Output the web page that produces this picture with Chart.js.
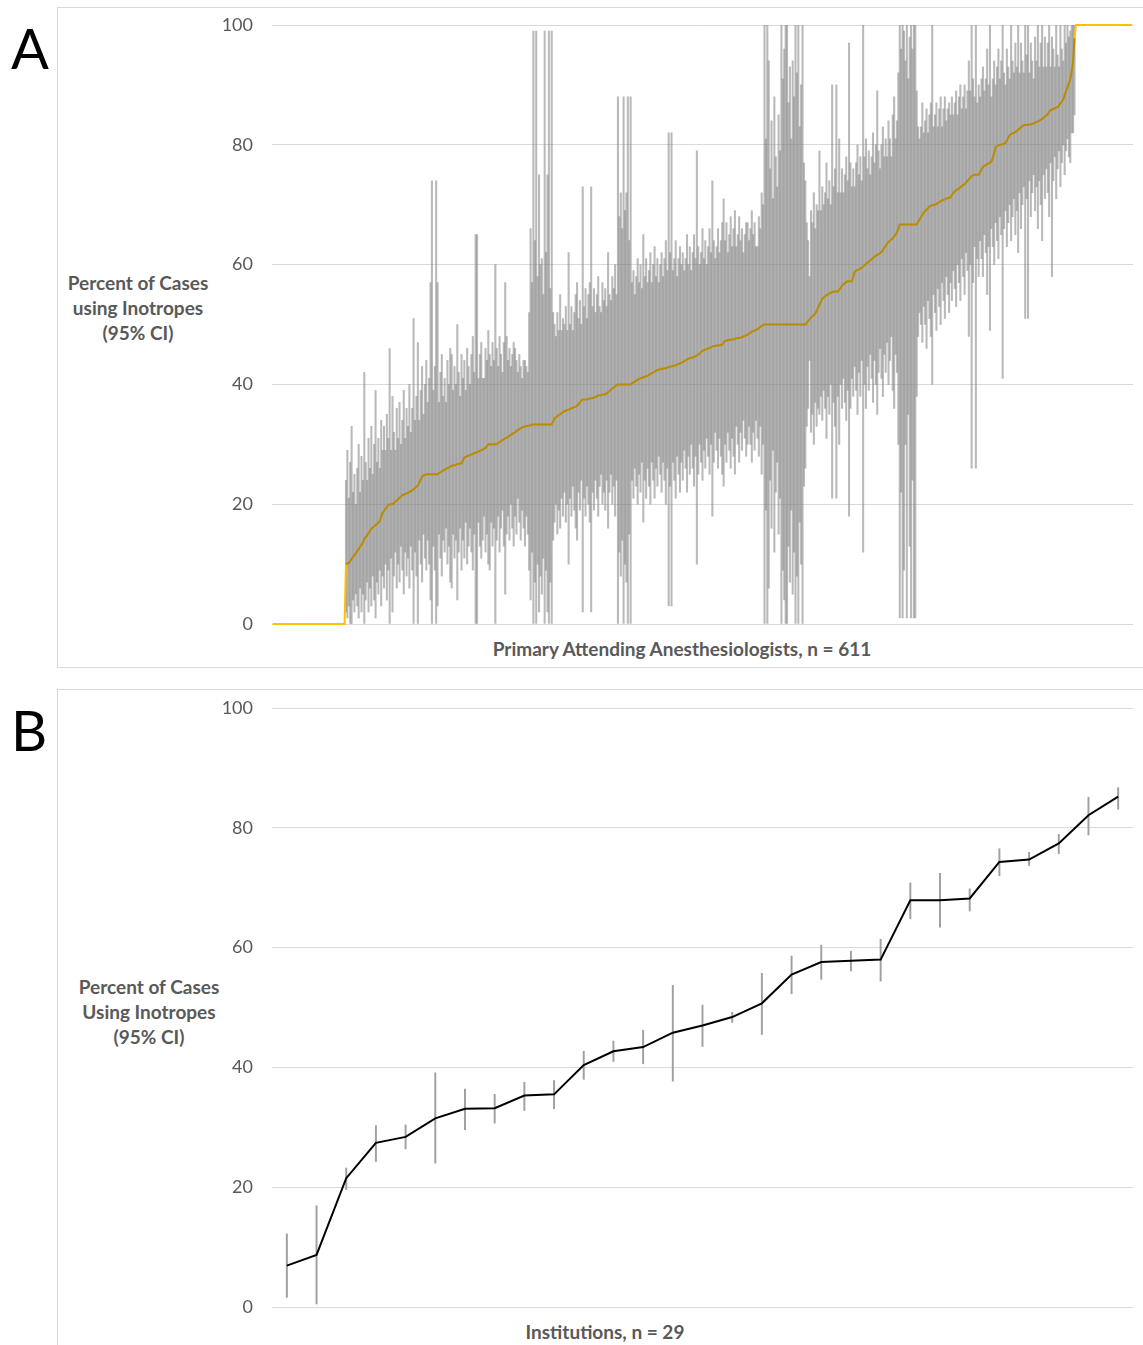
<!DOCTYPE html>
<html lang="en">
<head>
    <meta charset="UTF-8">
    <meta name="viewport" content="width=device-width, initial-scale=1.0">
    <script src="https://cdn.jsdelivr.net/npm/chart.js"></script>
    <title>Inotropes</title>
    <style>
        body { margin: 0; width: 1143px; height: 1345px; overflow: hidden; background: #fff; font-family: Lato, sans-serif; }
        .box { position: absolute; border: 1px solid #D9D9D9; }
        .cv { position: absolute; }
        .lbl { position: absolute; font-size: 56px; color: #000; line-height: 60px; }
        .ttl { position: absolute; text-align: center; font-weight: bold; font-size: 19px; color: #595959; line-height: 25px; }
    </style>
</head>
<body>
    <div class="box" style="left:57px; top:7px; width:1100px; height:659px;"></div>
    <div class="box" style="left:57px; top:689px; width:1100px; height:700px;"></div>

    <div class="lbl" style="left:11px; top:18px;">A</div>
    <div class="lbl" style="left:11px; top:700px;">B</div>

    <div class="ttl" style="left:38px; top:270px; width:200px;">Percent of Cases<br>using Inotropes<br>(95% CI)</div>
    <div class="ttl" style="left:49px; top:974px; width:200px;">Percent of Cases<br>Using Inotropes<br>(95% CI)</div>
    <div class="ttl" style="left:432px; top:636px; width:500px;">Primary Attending Anesthesiologists, n = 611</div>
    <div class="ttl" style="left:405px; top:1319px; width:400px;">Institutions, n = 29</div>

    <canvas id="chartA" class="cv" width="1086" height="660" style="left:57px; top:7px;"></canvas>
    <canvas id="chartB" class="cv" width="1086" height="656" style="left:57px; top:689px;"></canvas>

<script>
    // A : anesthesiologists, sorted by rate (611)
    let medianA = [
        0,0,0,0,0,0,0,0,0,0,
        0,0,0,0,0,0,0,0,0,0,
        0,0,0,0,0,0,0,0,0,0,
        0,0,0,0,0,0,0,0,0,0,
        0,0,0,0,0,0,0,0,0,0,
        0,0,10.0,10.1,10.2,10.5,10.9,11.2,11.5,11.8,
        12.2,12.5,12.9,13.2,13.6,14.2,14.5,14.8,15.2,15.5,
        15.9,16.1,16.3,16.5,16.7,16.9,17.2,17.9,18.6,18.9,
        19.2,19.5,19.8,20.0,20.0,20.0,20.2,20.4,20.6,20.8,
        21.1,21.3,21.5,21.6,21.7,21.8,21.9,22.0,22.2,22.3,
        22.5,22.7,22.9,23.1,23.6,24.1,24.6,24.8,24.9,25.0,
        25,25,25,25,25,25,25,25,25.2,25.3,
        25.5,25.6,25.8,25.9,26.0,26.1,26.3,26.4,26.5,26.5,
        26.6,26.7,26.7,26.8,26.8,27.3,27.8,27.9,28.0,28.1,
        28.2,28.3,28.4,28.5,28.6,28.7,28.8,28.9,29.0,29.1,
        29.3,29.4,29.7,30,30,30,30,30,30,30,
        30.2,30.4,30.5,30.7,30.8,31.0,31.1,31.3,31.4,31.6,
        31.7,31.9,32.0,32.2,32.4,32.5,32.7,32.8,32.9,33.0,
        33.0,33.1,33.1,33.2,33.3,33.3,33.3,33.3,33.3,33.3,
        33.3,33.3,33.3,33.3,33.3,33.3,33.3,33.3,33.3,33.8,
        34.4,34.5,34.7,34.9,35.0,35.2,35.4,35.5,35.6,35.7,
        35.8,35.9,36.0,36.1,36.2,36.3,36.4,36.7,37.0,37.3,
        37.5,37.5,37.5,37.5,37.6,37.6,37.7,37.7,37.8,37.9,
        38.0,38.2,38.2,38.2,38.3,38.3,38.3,38.5,38.7,38.9,
        39.1,39.3,39.5,39.7,39.9,40,40,40,40,40,
        40,40,40,40,40,40.2,40.3,40.5,40.6,40.8,
        40.9,41.0,41.1,41.2,41.3,41.3,41.4,41.6,41.7,41.9,
        42.0,42.1,42.3,42.4,42.5,42.5,42.6,42.6,42.7,42.7,
        42.8,42.9,42.9,43.0,43.1,43.1,43.2,43.3,43.4,43.5,
        43.6,43.7,43.9,44.0,44.2,44.3,44.4,44.4,44.5,44.6,
        44.7,44.8,45.0,45.2,45.4,45.6,45.7,45.8,45.9,46.0,
        46.1,46.2,46.3,46.4,46.4,46.5,46.5,46.5,46.6,46.6,
        47.0,47.3,47.3,47.4,47.4,47.5,47.5,47.5,47.6,47.7,
        47.7,47.8,47.8,47.9,48.0,48.1,48.2,48.3,48.5,48.6,
        48.8,48.9,49.0,49.1,49.2,49.4,49.6,49.8,49.9,50,
        50,50,50,50,50,50,50,50,50,50,
        50,50,50,50,50,50,50,50,50,50,
        50,50,50,50,50,50,50,50,50,50.3,
        50.6,50.9,51.1,51.4,51.6,51.8,52.3,52.8,53.3,53.8,
        54.3,54.5,54.7,54.9,55.0,55.2,55.3,55.4,55.5,55.5,
        55.5,55.5,55.8,56.1,56.5,56.7,56.9,57.1,57.2,57.2,
        57.2,57.2,58.0,58.8,59.0,59.1,59.2,59.3,59.5,59.7,
        59.9,60.1,60.3,60.5,60.7,60.9,61.1,61.3,61.5,61.6,
        61.8,61.9,62.1,62.4,62.8,63.1,63.5,63.8,64.0,64.2,
        64.4,64.7,65.0,65.4,66.0,66.7,66.7,66.7,66.7,66.7,
        66.7,66.7,66.7,66.7,66.7,66.7,66.7,66.7,67.1,67.5,
        67.9,68.3,68.7,68.9,69.2,69.4,69.7,69.8,69.9,70.0,
        70.0,70.1,70.3,70.4,70.6,70.7,70.8,70.9,71.0,71.1,
        71.1,71.2,71.6,72.0,72.2,72.4,72.6,72.7,72.9,73.1,
        73.3,73.4,73.7,74.0,74.2,74.5,74.8,74.9,75.0,75.0,
        75.0,75.0,75.4,75.9,76.3,76.5,76.6,76.8,76.9,77.0,
        77.2,77.8,78.7,79.6,79.8,79.9,80.0,80.0,80.1,80.2,
        80.3,80.7,81.2,81.6,81.8,81.9,82.0,82.1,82.3,82.5,
        82.7,82.9,83.1,83.3,83.3,83.3,83.3,83.4,83.4,83.5,
        83.6,83.7,83.8,83.9,84.0,84.2,84.3,84.5,84.7,84.9,
        85.1,85.5,85.8,85.9,86.0,86.1,86.2,86.3,86.6,86.9,
        87.2,87.6,88.3,89.0,89.6,90.3,90.9,92.3,93.9,97.8,
        100,100,100,100,100,100,100,100,100,100,
        100,100,100,100,100,100,100,100,100,100,
        100,100,100,100,100,100,100,100,100,100,
        100,100,100,100,100,100,100,100,100,100,
        100
    ];

    let lowA = [
        null,null,null,null,null,null,null,null,null,null,
        null,null,null,null,null,null,null,null,null,null,
        null,null,null,null,null,null,null,null,null,null,
        null,null,null,null,null,null,null,null,null,null,
        null,null,null,null,null,null,null,null,null,null,
        null,null,2,1,3,0,0,4,2,5,
        3,1,6,2,5,0,4,7,2,6,
        3,8,4,1,7,5,9,3,8,6,
        10,4,9,0,11,2,8,12,6,10,
        7,13,9,5,12,8,11,6,13,9,
        0,12,8,0,14,10,7,15,11,9,
        14,10,4,0,13,9,0,3,15,11,
        8,14,12,16,10,13,7,6,15,11,
        14,4,12,16,9,14,11,17,10,13,
        16,12,9,15,0,0,17,13,11,14,
        18,12,15,10,9,17,13,16,0,14,
        18,12,16,19,13,5,15,18,14,20,
        16,13,18,15,21,17,14,19,16,13,
        18,15,9,4,12,0,7,0,10,2,
        8,5,11,0,9,2,0,7,0,14,
        17,20,15,19,16,21,18,22,17,20,
        10,21,18,23,19,16,14,22,19,24,
        2,21,18,23,20,17,2,22,19,24,
        21,18,23,25,20,22,19,24,16,22,
        25,20,23,18,24,0,12,8,14,0,
        10,7,0,15,0,24,21,26,23,20,
        25,22,27,17,24,21,26,23,20,27,
        24,21,26,23,28,25,22,27,24,20,
        26,3,23,3,27,24,21,28,25,22,
        27,24,29,26,22,28,25,30,26,23,
        28,10,25,30,27,24,29,26,31,28,
        25,30,18,27,32,29,26,31,28,25,
        23,30,27,32,29,26,31,28,25,33,
        30,27,32,29,34,31,28,30,33,30,
        27,32,29,34,31,28,33,25,30,0,
        19,0,6,24,16,29,12,22,27,15,
        21,0,9,4,0,0,13,7,19,5,
        12,0,8,0,17,10,0,23,26,33,
        36,44,32,35,30,37,33,36,35,38,
        34,39,36,31,38,35,40,21,37,33,
        21,38,30,40,36,41,37,34,39,18,
        36,41,38,43,39,35,42,38,44,12,
        40,36,43,39,45,41,37,44,40,35,
        42,46,41,38,45,42,47,40,44,48,
        39,36,45,42,30,1,22,1,9,30,
        1,35,13,1,24,1,1,38,48,52,
        50,47,53,50,46,54,51,48,40,55,
        52,49,56,53,50,57,54,51,58,55,
        52,57,54,59,56,53,60,57,54,61,
        58,55,62,59,48,60,26,57,63,26,
        61,58,64,61,58,65,62,55,63,49,
        66,63,60,67,64,61,68,65,41,66,
        69,63,67,70,64,68,71,65,69,62,
        72,66,70,73,51,71,51,74,68,72,
        75,69,73,66,74,70,64,75,71,76,
        72,68,77,58,74,78,71,76,79,73,
        77,80,75,79,81,78,77,82,82,85,
        null,null,null,null,null,null,null,null,null,null,
        null,null,null,null,null,null,null,null,null,null,
        null,null,null,null,null,null,null,null,null,null,
        null,null,null,null,null,null,null,null,null,null,
        null
    ];

    let highA = [
        null,null,null,null,null,null,null,null,null,null,
        null,null,null,null,null,null,null,null,null,null,
        null,null,null,null,null,null,null,null,null,null,
        null,null,null,null,null,null,null,null,null,null,
        null,null,null,null,null,null,null,null,null,null,
        null,null,24,29,21,27,33,22,25,20,
        26,30,22,28,24,42,27,24,31,26,
        33,25,30,39,27,31,26,34,29,33,
        29,35,31,46,29,38,32,29,36,31,
        37,30,34,39,31,36,33,40,32,36,
        51,34,38,47,34,39,43,35,40,44,
        37,41,57,74,39,43,74,57,37,42,
        45,38,41,37,44,40,46,45,39,43,
        40,50,42,38,45,41,44,39,46,43,
        40,45,48,42,65,65,41,45,47,41,
        41,46,44,49,45,43,47,44,60,46,
        43,48,45,42,47,57,48,44,46,43,
        45,47,46,44,42,45,43,41,44,44,
        43,42,52,66,57,99,64,99,58,75,
        60,61,55,99,62,75,99,56,99,52,
        50,48,52,49,55,49,51,50,53,49,
        62,50,53,49,52,55,57,51,54,50,
        73,53,56,51,55,57,73,53,56,52,
        55,58,53,52,57,54,56,53,62,55,
        54,58,56,60,55,88,68,72,66,88,
        69,72,88,64,88,57,59,55,58,61,
        57,60,56,65,58,61,57,59,62,57,
        60,63,58,61,57,60,62,58,61,64,
        59,82,62,82,59,61,64,58,61,63,
        60,62,59,61,65,60,63,59,62,65,
        61,79,63,60,62,66,61,64,60,63,
        66,62,74,64,61,63,66,62,64,67,
        71,64,67,62,65,68,63,66,69,63,
        65,68,64,66,62,65,67,67,64,66,
        69,65,67,63,63,68,66,72,70,100,
        81,100,94,76,84,71,88,78,73,85,
        79,100,91,96,100,100,87,93,81,94,
        88,100,92,100,83,90,100,77,74,67,
        64,58,69,67,72,66,70,69,79,69,
        73,70,72,77,71,74,70,90,73,76,
        90,72,81,72,76,72,75,78,74,97,
        77,73,76,73,77,80,75,78,74,100,
        78,81,76,79,75,78,82,77,80,89,
        79,76,80,83,78,81,78,84,81,78,
        85,88,81,84,92,100,96,100,99,94,
        100,91,98,100,96,100,100,89,83,81,
        83,87,82,84,86,82,85,87,100,83,
        85,87,83,86,88,83,86,88,84,86,
        87,85,88,85,87,89,85,88,90,86,
        88,90,86,89,94,89,100,91,88,100,
        87,90,88,91,93,89,91,96,90,100,
        88,91,94,90,93,96,91,94,100,92,
        90,96,93,91,100,94,92,97,93,100,
        92,97,94,92,100,95,100,92,97,94,
        91,98,94,100,93,97,100,93,98,93,
        97,100,93,98,96,93,100,95,93,100,
        96,94,100,97,100,98,99,100,100,100,
        null,null,null,null,null,null,null,null,null,null,
        null,null,null,null,null,null,null,null,null,null,
        null,null,null,null,null,null,null,null,null,null,
        null,null,null,null,null,null,null,null,null,null,
        null
    ];

    // B : institutions (29)
    let rateB = [6.9, 8.7, 21.5, 27.4, 28.4, 31.5, 33.1, 33.2, 35.3, 35.5, 40.4, 42.7, 43.4, 45.8, 47.0,
                 48.4, 50.7, 55.5, 57.6, 57.8, 58.0, 67.9, 67.9, 68.2, 74.3, 74.7, 77.4, 82.1, 85.2];
    let lowB  = [1.6, 0.5, 19.6, 24.3, 26.4, 24.0, 29.6, 30.7, 32.8, 33.1, 38.0, 41.0, 40.6, 37.7, 43.5,
                 47.5, 45.5, 52.3, 54.7, 56.1, 54.4, 64.8, 63.4, 66.1, 72.0, 73.7, 75.7, 78.8, 83.1];
    let highB = [12.2, 16.9, 23.2, 30.3, 30.4, 39.1, 36.4, 35.5, 37.5, 37.8, 42.7, 44.4, 46.2, 53.7, 50.4,
                 49.2, 55.7, 58.6, 60.4, 59.4, 61.4, 70.8, 72.4, 69.8, 76.5, 75.9, 78.9, 85.1, 86.7];

    let yTicks = [0, 20, 40, 60, 80, 100];

    let labelsA = medianA.map((v, i) => i + 1);
    let labelsB = rateB.map((v, i) => i + 1);
    let ciA = lowA.map((l, i) => l == null ? null : [l, highA[i]]);
    let ciB = lowB.map((l, i) => [l, highB[i]]);

    function baseOptions(padTop, padBottom) {
        return {
            responsive: false,
            animation: false,
            layout: { padding: { left: 0, top: padTop, right: 10, bottom: padBottom } },
            plugins: { legend: { display: false }, tooltip: { enabled: false } },
            scales: {
                x: { display: false },
                y: {
                    min: yTicks[0], max: yTicks[yTicks.length - 1],
                    afterBuildTicks: s => { s.ticks = yTicks.map(v => ({ value: v })); },
                    afterFit: s => { s.width = 215; },
                    // tick marks kept invisible, they only space the labels off the plot
                    ticks: { padding: 0, color: '#595959', font: { family: 'Lato', size: 18 } },
                    grid: { color: '#D9D9D9', lineWidth: 1, drawTicks: true, tickLength: 19, tickColor: 'rgba(0,0,0,0)' },
                    border: { display: false }
                }
            }
        };
    }

    new Chart(document.getElementById('chartA'), {
        type: 'bar',
        data: {
            labels: labelsA,
            datasets: [
                {
                    type: 'line', data: medianA, order: 0, clip: false,
                    borderColor: '#BF9000', borderWidth: 2, pointRadius: 0, tension: 0,
                    segment: {
                        borderColor: c => (lowA[c.p0DataIndex] == null || lowA[c.p1DataIndex] == null) ? '#FFC000' : '#BA8C00'
                    }
                },
                {
                    type: 'bar', data: ciA, order: 1,
                    backgroundColor: 'rgba(128,128,128,0.55)', barThickness: 1.4
                }
            ]
        },
        options: baseOptions(18, 43)
    });

    new Chart(document.getElementById('chartB'), {
        type: 'bar',
        data: {
            labels: labelsB,
            datasets: [
                {
                    type: 'line', data: rateB, order: 0, clip: false,
                    borderColor: '#000000', borderWidth: 2, pointRadius: 0, tension: 0
                },
                {
                    type: 'bar', data: ciB, order: 1,
                    backgroundColor: '#A0A0A0', barThickness: 1.3
                }
            ]
        },
        options: baseOptions(19, 38)
    });
</script>
</body>
</html>
